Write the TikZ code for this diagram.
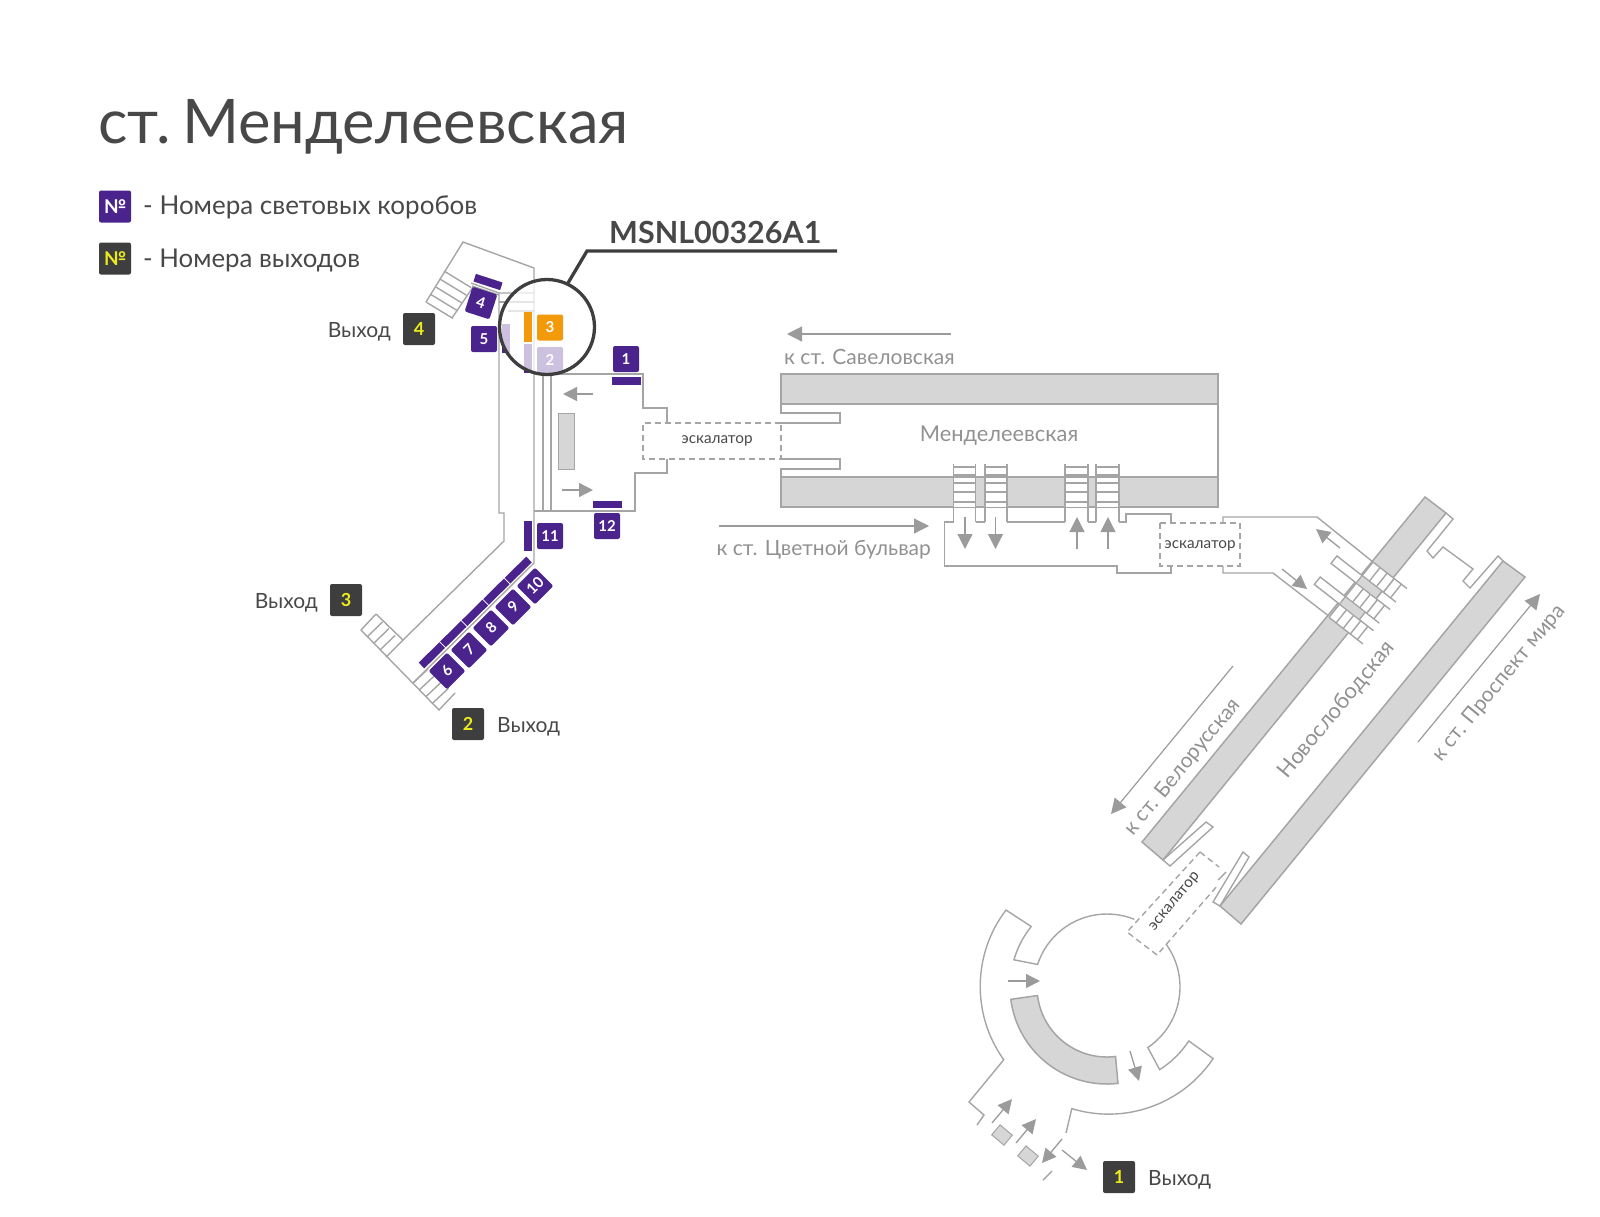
\documentclass[tikz,border=0pt]{standalone}
\usepackage{fontspec}
\setmainfont{Lato}
\usepackage{tikz}
\usetikzlibrary{arrows.meta,calc}
\definecolor{boxpurple}{RGB}{75,35,140}
\definecolor{exitdark}{RGB}{62,62,62}
\definecolor{exityellow}{RGB}{235,235,30}
\definecolor{markorange}{RGB}{243,154,10}
\definecolor{wallgrey}{RGB}{165,165,165}
\definecolor{platgrey}{RGB}{214,214,214}
\definecolor{arrowgrey}{RGB}{155,155,155}
\definecolor{textdark}{RGB}{72,72,72}
\definecolor{textlight}{RGB}{145,145,145}
\tikzset{
    wall/.style={draw=wallgrey, line width=1.4pt, line join=miter},
    platform/.style={draw=wallgrey, fill=platgrey, line width=1.5pt},
    dashwall/.style={draw=wallgrey, line width=1.4pt, dash pattern=on 6pt off 4pt},
    flowarrow/.style={draw=arrowgrey, line width=1.3pt, -{Triangle[length=14pt,width=14pt]}, arrowgrey},
    thinarrow/.style={draw=arrowgrey, line width=1.2pt, -{Triangle[length=15pt,width=15pt]}, arrowgrey},
    plain/.style={inner sep=0pt, text=textdark, font=\fontsize{21}{21}\selectfont},
    dimtext/.style={inner sep=0pt, text=textlight, font=\fontsize{21}{21}\selectfont},
    esctext/.style={inner sep=0pt, text=textdark, font=\fontsize{15.3}{15.3}\selectfont},
    boxnum/.style={fill=boxpurple, text=white, rounded corners=2pt, minimum size=26pt, inner sep=0pt, font=\fontsize{15}{15}\selectfont\bfseries},
    exitnum/.style={fill=exitdark, text=exityellow, rounded corners=2pt, minimum size=32pt, inner sep=0pt, font=\fontsize{18}{18}\selectfont\bfseries},
    boxbar/.style={fill=boxpurple, draw=none},
}
\begin{document}
\begin{tikzpicture}[x=1pt,y=-1pt]
    \useasboundingbox (0,0) rectangle (1600,1216);

    \node[plain, anchor=base west, font=\fontsize{61.5}{61.5}\selectfont] (title) at (98,143) {\spaceskip=0.1em\relax ст. Менделеевская};
    \node[boxnum, minimum size=32pt, font=\fontsize{19}{19}\selectfont\bfseries] (legendbox) at (115,206.5) {№};
    \node[exitnum, font=\fontsize{19}{19}\selectfont\bfseries] (legendexit) at (115,258.5) {№};
    \node[plain, anchor=base west, font=\fontsize{26}{26}\selectfont] (legendboxtext) at (143,214) {- Номера световых коробов};
    \node[plain, anchor=base west, font=\fontsize{25.8}{25.8}\selectfont] (legendexittext) at (143,267) {- Номера выходов};

    % west hall
    \draw[wall] (426,302) -- (463,242) -- (534,268) -- (534,563) -- (413,683);
    \draw[wall] (473,287) -- (452,318);
    \foreach \t in {0,0.25,0.5,0.75,1} {
        \draw[wall] ($(444,271)!\t!(426,302)$) -- ++(27,16.5);
    }
    \draw[wall] (471,283) -- (499,293) -- (535,293);
    \draw[wall] (472,286) -- (499,295);
    \draw[wall] (499,302) -- (535,302);
    \draw[wall] (508,311) -- (535,311);
    \draw[wall] (499,293) -- (499,513) -- (504,513) -- (504,541) -- (403,640) -- (376,614);
    \draw[wall] (376,614) -- (361,630) -- (439,710) -- (455,693);
    \draw[wall] (403,640) -- (386,657);
    \foreach \t in {0.25,0.5,0.75} {
        \draw[wall] ($(361,630)!\t!(386,657)$) -- ++(15.5,-15);
    }
    \draw[wall] (413,683) -- (428,669);
    \foreach \t in {0.25,0.5,0.75} {
        \draw[wall] ($(413,683)!\t!(439,710)$) -- ++(16,-15);
    }
    \draw[wall] (534,374) -- (643,374) -- (643,408) -- (667,408) -- (667,423);
    \draw[wall] (667,459) -- (667,473) -- (635,473) -- (635,511) -- (534,511);
    \draw[wall] (543,374) -- (543,511);
    \draw[wall] (551,374) -- (551,511);
    \draw[platform, line width=1pt] (558,413) rectangle (574,469);
    \draw[flowarrow] (593,394) -- (563,394);
    \draw[flowarrow] (562,490) -- (593,490);

    % main platform
    \draw[platform] (781,374) rectangle (1218,404);
    \draw[platform] (781,477) rectangle (1218,507);
    \draw[wall] (1218,404) -- (1218,477);
    \draw[wall] (781,404) -- (781,413) -- (840,413) -- (840,423) -- (781,423);
    \draw[wall] (781,459) -- (840,459) -- (840,469) -- (781,469) -- (781,477);
    \draw[dashwall] (781,423) -- (643,423) -- (643,459) -- (781,459) -- cycle;
    \node[esctext] (escwest) at (717,441) {эскалатор};
    \node[dimtext, font=\fontsize{21.8}{21.8}\selectfont] (mendlabel) at (999,436) {Менделеевская};

    \foreach \xa/\xb in {953.5/975.5,985/1007,1065/1088,1096/1119} {
        \fill[white] (\xa,477.5) rectangle (\xb,506.5);
        \draw[wall] (\xa,464) -- (\xa,522);
        \draw[wall] (\xb,464) -- (\xb,522);
        \foreach \y in {467,475,483,492,502} {
            \draw[wall] (\xa,\y) -- (\xb,\y);
        }
    }
    \draw[wall] (953.5,522) -- (944.5,522) -- (944.5,566) -- (1117,566) -- (1117,573) -- (1171,573) -- (1171,566);
    \draw[wall] (975.5,522) -- (985,522);
    \draw[wall] (1007,522) -- (1065,522);
    \draw[wall] (1088,522) -- (1096,522);
    \draw[wall] (1119,522) -- (1126,522) -- (1126,514) -- (1171,514) -- (1171,523);
    \draw[wall] (1223,523) -- (1223,517) -- (1317,517) -- (1373,562);
    \draw[wall] (1223,566) -- (1223,573) -- (1273,573) -- (1330,617);
    \draw[dashwall] (1160,523) rectangle (1240,566);
    \node[esctext] (esceast) at (1200,546) {эскалатор};
    \foreach \x in {965,995.5} {
        \draw[thinarrow] (\x,517) -- (\x,549);
    }
    \foreach \x in {1077,1108} {
        \draw[thinarrow] (\x,549) -- (\x,517);
    }
    \draw[thinarrow] (951,334) -- (787,334);
    \node[dimtext, anchor=base west] (savlabel) at (784,364) {к ст. Савеловская};
    \draw[thinarrow] (719,526) -- (929,526);
    \node[dimtext, anchor=base east] (tsvlabel) at (931,555) {к ст. Цветной бульвар};
    \draw[flowarrow] (1340,548) -- (1316,529);
    \draw[flowarrow] (1282,569) -- (1307,589);

    % diagonal platforms
    \draw[platform] (1425,497) -- (1446,513) -- (1163,860) -- (1142,842) -- cycle;
    \draw[platform] (1503,561) -- (1525,577) -- (1241,924) -- (1220,906) -- cycle;
    \draw[wall] (1446,513) -- (1453,519) -- (1427,551) -- (1433,558) -- (1443,547) -- (1473,569) -- (1463,581) -- (1470,588) -- (1498,556) -- (1503,561);
    \draw[wall] (1163,860) -- (1170,866) -- (1213,827) -- (1206,822) -- (1163,860);
    \draw[wall] (1220,906) -- (1213,902) -- (1243,852) -- (1249,857) -- (1220,906);
    \begin{scope}[shift={(1373,562)}, x={(0.788pt,-0.616pt)}, y={(-0.62pt,-0.78pt)}]
        \foreach \va/\vb in {0/17.5,27/44.5,54/71} {
            \fill[white] (0.5,\va) -- (26,\va) -- (26,\vb) -- (0.5,\vb) -- cycle;
            \draw[wall] (0,\va) -- (43,\va);
            \draw[wall] (0,\vb) -- (43,\vb);
            \foreach \u in {0,9,18,27,36} {
                \draw[wall] (\u,\va) -- (\u,\vb);
            }
        }
        \foreach \va/\vb in {17.5/27,44.5/54} {
            \draw[wall, fill=white] (-32,\va) -- (0,\va) -- (0,\vb) -- (-32,\vb) -- cycle;
            \draw[platform, line width=1pt] (0,\va) -- (25,\va) -- (25,\vb) -- (0,\vb) -- cycle;
        }
    \end{scope}
    \draw[thinarrow] (1233,666) -- (1111,814);
    \node[dimtext, rotate=50.5] (belolabel) at (1183,767) {к ст. Белорусская};
    \node[dimtext, rotate=50.5, font=\fontsize{22}{22}\selectfont] (novolabel) at (1337,710) {Новослободская};
    \draw[thinarrow] (1418,742) -- (1540,594);
    \node[dimtext, rotate=50.5] (prosplabel) at (1499,683) {к ст. Проспект мира};

    % south hall
    \draw[dashwall] (1200,852) -- (1127,932) -- (1157,955) -- (1218,885);
    \draw[dashwall] (1200,852) -- (1219,867);
    \draw[wall] (1218,880) -- (1226,872);
    \node[esctext, rotate=50.5] (escsouth) at (1175,902) {эскалатор};
    \begin{scope}[shift={(1107,987)}, y=1pt]
        \draw[platform] (187:70) arc[start angle=187,end angle=277,radius=70pt] -- (276.5:97) arc[start angle=276.5,end angle=187.3,radius=97pt] -- cycle;
        \draw[wall] (68:73) arc[start angle=68,end angle=162,radius=73pt] -- (163.7:97) arc[start angle=163.7,end angle=141.4,radius=97pt] -- (142.7:127) arc[start angle=142.7,end angle=215.6,radius=126pt] -- (-138,-115) -- (-123,-128) -- (-130,-138);
        \draw[wall] (36:73) arc[start angle=36,end angle=-56,radius=73pt] -- (-57.5:98) arc[start angle=-57.5,end angle=-33.4,radius=98pt] -- (-34:128) arc[start angle=-34,end angle=-107,radius=126pt] -- (-41,-146);
    \end{scope}
    \draw[flowarrow] (1008,981) -- (1040,981);
    \draw[flowarrow] (1130,1051) -- (1139,1081);
    \draw[flowarrow] (992,1123) -- (1012,1099);
    \draw[flowarrow] (1016,1143) -- (1036,1119);
    \draw[flowarrow] (1062,1139) -- (1042,1163);
    \draw[flowarrow] (1062,1150) -- (1087,1170);
    \draw[wall] (1043,1180) -- (1052,1171);
    \node[platform, line width=1pt, minimum width=16pt, minimum height=13pt, inner sep=0pt, rotate=-40] (kiosk1) at (1002,1135) {};
    \node[platform, line width=1pt, minimum width=16pt, minimum height=13pt, inner sep=0pt, rotate=-40] (kiosk2) at (1028,1156) {};

    % light boxes
    \node[boxnum] (box1) at (626,359) {1};
    \fill[boxbar] (612,377) rectangle (641,385);
    \node[boxnum, rotate=-18] (box4) at (481,303) {4};
    \node[boxbar, rotate=-18, minimum width=28pt, minimum height=8pt, inner sep=0pt] (bar4) at (488,282) {};
    \node[boxnum] (box5) at (484,339) {5};
    \fill[boxbar] (502,324) rectangle (510,353);
    \node[boxnum] (box2) at (550,360) {2};
    \fill[boxbar] (524,344) rectangle (532,373);
    \node[boxnum] (box11) at (550,536) {11};
    \fill[boxbar] (524,521) rectangle (532,551);
    \node[boxnum] (box12) at (607,526) {12};
    \fill[boxbar] (593,501) rectangle (622,508);
    \foreach \n/\x/\y in {6/447/671,7/469/650,8/491/628,9/513/607,10/535/586} {
        \node[boxnum, rotate=45] (box\n) at (\x,\y) {\n};
    }
    \foreach \a/\b in {0/0.193,0.2/0.393,0.4/0.593,0.6/0.793,0.8/1} {
        \draw[boxpurple, line width=8pt] ($(421.5,665.5)!\a!(529,559.5)$) -- ($(421.5,665.5)!\b!(529,559.5)$);
    }

    % marker circle
    \fill[white, fill opacity=0.72] (547,327) circle[radius=47.5pt];
    \draw[exitdark, line width=3.3pt] (547,327) circle[radius=47.5pt];
    \node[boxnum, fill=markorange] (box3) at (550,327.5) {3};
    \fill[markorange] (524,312) rectangle (532,342);
    \coordinate (leaderfoot) at (568,283);
    \coordinate (leaderbend) at (587,251);
    \coordinate (leaderend) at (837,251);
    \draw[exitdark, line width=3.3pt] (leaderfoot) -- (leaderbend) -- (leaderend);
    \node[plain, anchor=base west, font=\fontsize{30.5}{30.5}\selectfont\bfseries] (boxcode) at (609,243) {MSNL00326A1};

    % exits
    \node[exitnum] (exit4) at (419,329) {4};
    \node[plain, anchor=base east] (exit4text) at (391,337) {Выход};
    \node[exitnum] (exit3) at (346,600) {3};
    \node[plain, anchor=base east] (exit3text) at (318,608) {Выход};
    \node[exitnum] (exit2) at (468,724) {2};
    \node[plain, anchor=base west] (exit2text) at (497,732) {Выход};
    \node[exitnum] (exit1) at (1119,1177) {1};
    \node[plain, anchor=base west] (exit1text) at (1148,1185) {Выход};
\end{tikzpicture}
\end{document}
